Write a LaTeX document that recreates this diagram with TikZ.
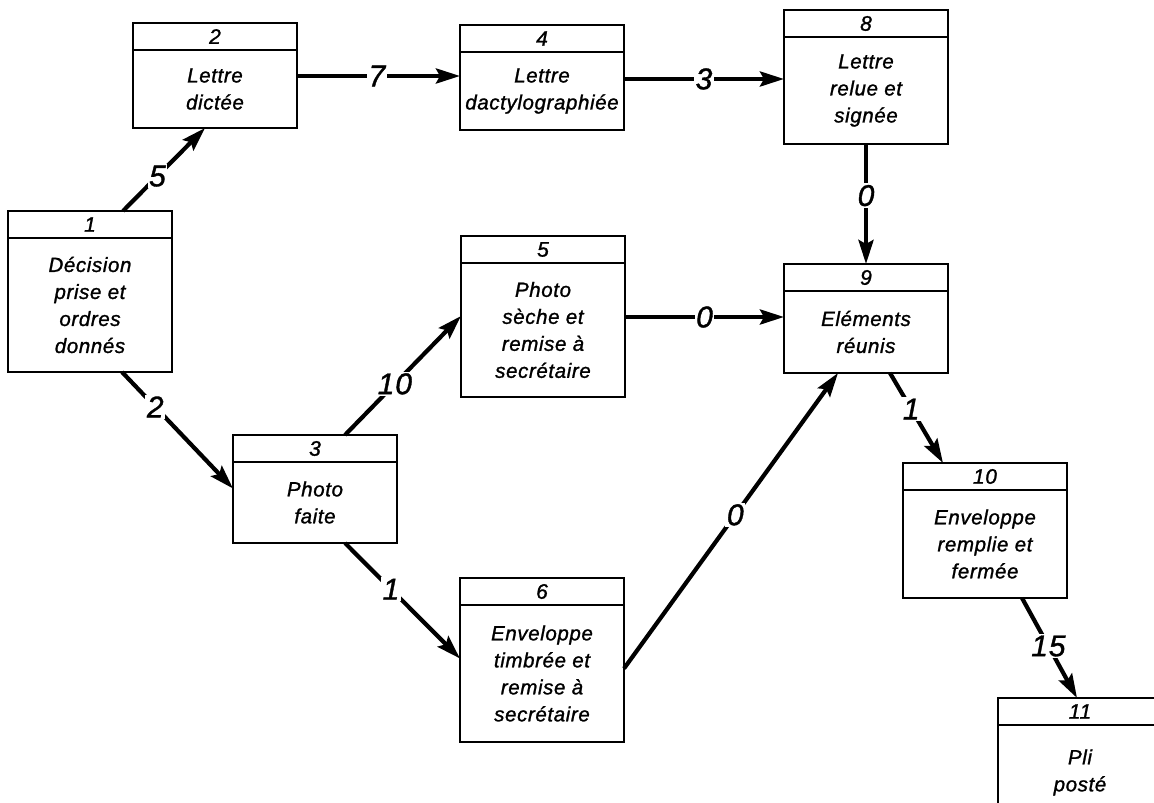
\documentclass[tikz,border=0pt]{standalone}
\usepackage{fontspec}
\setmainfont{Liberation Sans}[LetterSpace=3,ItalicFeatures={FakeBold=1.2}]
\usetikzlibrary{positioning,arrows.meta}
\begin{document}
\begin{tikzpicture}[x=1pt,y=-1pt,
  tete/.style={draw,line width=1.7pt,anchor=north west,minimum width=164pt,minimum height=27pt,inner sep=0pt,outer sep=0pt,font=\fontsize{21}{21}\selectfont\itshape},
  corps/.style={draw,line width=1.7pt,minimum width=164pt,inner sep=0pt,outer sep=0pt,align=center,font=\fontsize{20.5}{27}\selectfont\itshape},
  fleche/.style={line width=4.2pt,-{Stealth[length=24pt,width=15pt,inset=4pt]}},
  duree/.style={fill=white,inner sep=1.5pt,font=\fontsize{30}{30}\selectfont\itshape}]
\useasboundingbox[fill=white] (0,0) rectangle (1154,803);
\foreach \n/\x/\y/\h/\txt in {
  1/8/211/134/{Décision\\prise et\\ordres\\donnés},
  2/133/23/78/{Lettre\\dictée},
  3/233/435/81/{Photo\\faite},
  4/460/25/78/{Lettre\\dactylographiée},
  5/461/236/134/{Photo\\sèche et\\remise à\\secrétaire},
  6/460/578/137/{Enveloppe\\timbrée et\\remise à\\secrétaire},
  8/784/10/107/{Lettre\\relue et\\signée},
  9/784/264/82/{Eléments\\réunis},
  10/903/463/108/{Enveloppe\\remplie et\\fermée},
  11/998/698/95/{Pli\\posté}}
{
\node[tete] (t\n) at (\x,\y) {\n};
\node[corps,minimum height=\h pt,below=0pt of t\n] (e\n) {\txt};
}
\draw[fleche] ([xshift=115pt]t1.north west) -- node[duree,pos=.42] {5} ([xshift=72pt]e2.south west);
\draw[fleche] ([yshift=13pt]e2.east) -- node[duree,pos=.49] {7} ([yshift=13pt]e2.east -| e4.west);
\draw[fleche] ([yshift=12pt]e4.east) -- node[duree] {3} ([yshift=12pt]e4.east -| e8.west);
\draw[fleche] (e8.south) -- node[duree,pos=.43] {0} (t9.north);
\draw[fleche] ([xshift=114pt]e1.south west) -- node[duree,pos=.3] {2} ([yshift=14pt]e3.west);
\draw[fleche] ([xshift=112pt]t3.north west) -- node[duree,pos=.43] {10} ([yshift=14pt]e5.west);
\draw[fleche] ([yshift=13pt]e5.east) -- node[duree] {0} ([yshift=13pt]e5.east -| e9.west);
\draw[fleche] ([xshift=112pt]e3.south west) -- node[duree,pos=.4] {1} ([yshift=15pt]e6.west);
\draw[fleche] ([yshift=5pt]e6.east) -- node[duree,pos=.52] {0} ([xshift=54pt]e9.south west);
\draw[fleche] ([xshift=106pt]e9.south west) -- node[duree,pos=.4] {1} ([xshift=40pt]t10.north west);
\draw[fleche] ([xshift=119pt]e10.south west) -- node[duree,pos=.48] {15} ([xshift=79pt]t11.north west);
\end{tikzpicture}
\end{document}
